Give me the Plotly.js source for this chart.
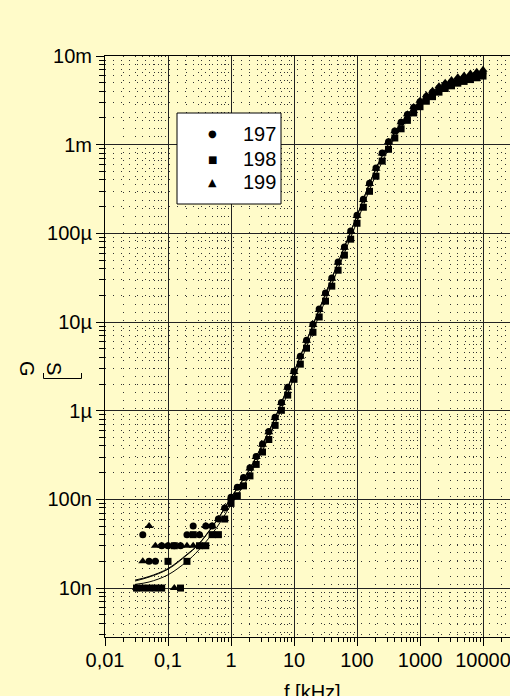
<!DOCTYPE html>
<html>
<head>
<meta charset="utf-8">
<script src="https://cdn.plot.ly/plotly-3.0.1.min.js"></script>
<style>
html,body{margin:0;padding:0;overflow:hidden;background:#fffbc9;}
#chart{width:540px;height:696px;}
</style>
</head>
<body>
<div id="chart"></div>
<script>
// frequency points [kHz]
const freq = [0.0316, 0.0398, 0.0501, 0.0631, 0.0794, 0.1, 0.126, 0.158, 0.2, 0.251, 0.316, 0.398, 0.501, 0.631, 0.794,
  1, 1.26, 1.58, 2, 2.51, 3.16, 3.98, 5.01, 6.31, 7.94,
  10, 12.6, 15.8, 20, 25.1, 31.6, 39.8, 50.1, 63.1, 79.4,
  100, 126, 158, 200, 251, 316, 398, 501, 631, 794,
  1000, 1260, 1580, 2000, 2510, 3160, 3980, 5010, 6310, 7940, 10000];

// conductance G [S]
const g197 = [1e-8, 4e-8, 2e-8, 2e-8, 3e-8, 3e-8, 3e-8, 3e-8, 4e-8, 5e-8, 4e-8, 5e-8, 5e-8, 6e-8, 8e-8,
  1.06e-7, 1.37e-7, 1.76e-7, 2.27e-7, 3.05e-7, 4.22e-7, 5.83e-7, 8.42e-7, 1.24e-6, 1.84e-6,
  2.79e-6, 4.12e-6, 6.24e-6, 9.44e-6, 1.40e-5, 2.12e-5, 3.13e-5, 4.74e-5, 7.01e-5, 1.06e-4,
  1.60e-4, 2.43e-4, 3.68e-4, 5.44e-4, 8.05e-4, 1.08e-3, 1.43e-3, 1.79e-3, 2.19e-3, 2.62e-3,
  3.05e-3, 3.48e-3, 3.89e-3, 4.35e-3, 4.75e-3, 5.08e-3, 5.42e-3, 5.67e-3, 5.93e-3, 6.20e-3, 6.48e-3];

const g198 = [1e-8, 1e-8, 1e-8, 1e-8, 1e-8, 2e-8, 3e-8, 1e-8, 2e-8, 4e-8, 3e-8, 3e-8, 4e-8, 4e-8, 6e-8,
  9.0e-8, 1.10e-7, 1.42e-7, 1.84e-7, 2.48e-7, 3.42e-7, 4.73e-7, 6.83e-7, 1.01e-6, 1.50e-6,
  2.26e-6, 3.35e-6, 5.07e-6, 7.66e-6, 1.14e-5, 1.72e-5, 2.54e-5, 3.84e-5, 5.68e-5, 8.60e-5,
  1.30e-4, 1.97e-4, 2.98e-4, 4.41e-4, 6.53e-4, 8.87e-4, 1.19e-3, 1.51e-3, 1.88e-3, 2.28e-3,
  2.68e-3, 3.09e-3, 3.48e-3, 3.91e-3, 4.30e-3, 4.61e-3, 4.94e-3, 5.17e-3, 5.42e-3, 5.68e-3, 5.94e-3];

const g199 = [1e-8, 2e-8, 5e-8, 3e-8, 3e-8, 3e-8, 1e-8, 3e-8, 3e-8, 3e-8, 4e-8, 5e-8, 5e-8, 6e-8, 8e-8,
  1.04e-7, 1.34e-7, 1.73e-7, 2.23e-7, 3.00e-7, 4.14e-7, 5.72e-7, 8.26e-7, 1.22e-6, 1.81e-6,
  2.74e-6, 4.05e-6, 6.13e-6, 9.27e-6, 1.37e-5, 2.08e-5, 3.07e-5, 4.65e-5, 6.87e-5, 1.04e-4,
  1.57e-4, 2.38e-4, 3.61e-4, 5.34e-4, 7.93e-4, 1.07e-3, 1.42e-3, 1.79e-3, 2.21e-3, 2.66e-3,
  3.13e-3, 3.60e-3, 4.05e-3, 4.55e-3, 5.00e-3, 5.36e-3, 5.76e-3, 6.04e-3, 6.34e-3, 6.64e-3, 6.98e-3];

// fitted curves
const fitFreq = [0.03, 0.05, 0.1, 0.2, 0.3, 0.5, 0.7, 1, 1.5, 2, 3, 5, 7, 10, 20, 50, 100, 200, 500, 1000, 2000, 5000, 10000];
const fit197 = [1.23e-8, 1.35e-8, 1.66e-8, 2.40e-8, 3.09e-8, 4.90e-8, 6.92e-8, 1.05e-7, 1.62e-7, 2.24e-7, 3.89e-7, 8.32e-7, 1.48e-6, 2.75e-6, 9.33e-6, 4.68e-5, 1.58e-4, 5.37e-4, 1.74e-3, 3.02e-3, 4.27e-3, 5.62e-3, 6.46e-3];
const fit198 = [1.10e-8, 1.17e-8, 1.41e-8, 2.00e-8, 2.63e-8, 4.07e-8, 5.75e-8, 8.71e-8, 1.35e-7, 1.91e-7, 3.31e-7, 7.08e-7, 1.26e-6, 2.34e-6, 7.94e-6, 3.98e-5, 1.35e-4, 4.57e-4, 1.55e-3, 2.75e-3, 3.98e-3, 5.13e-3, 5.89e-3];
const fit199 = [1.20e-8, 1.33e-8, 1.63e-8, 2.36e-8, 3.05e-8, 4.85e-8, 6.85e-8, 1.04e-7, 1.60e-7, 2.21e-7, 3.85e-7, 8.22e-7, 1.46e-6, 2.72e-6, 9.25e-6, 4.64e-5, 1.57e-4, 5.40e-4, 1.78e-3, 3.10e-3, 4.45e-3, 5.90e-3, 6.80e-3];

const seriesNames = ["197", "198", "199"];
const legendGlyphs = ["●", "■", "▲"];
const xTickVals = [0.01, 0.1, 1, 10, 100, 1000, 10000];
const xTickText = ["0,01", "0,1", "1", "10", "100", "1000", "10000"];
const yTickVals = [1e-8, 1e-7, 1e-6, 1e-5, 1e-4, 1e-3, 1e-2];
const yTickText = ["10n", "100n", "1µ", "10µ", "100µ", "1m", "10m"];

const minorX = [], minorY = [];
for (let e = -2; e <= 4; e++) for (let m = 2; m <= 9; m++) minorX.push(m * Math.pow(10, e));
for (let e = -9; e <= -3; e++) for (let m = 2; m <= 9; m++) minorY.push(m * Math.pow(10, e));

const FONT = "Liberation Sans, Arial, sans-serif";
const BG = "#fffbc9";

// plot-area geometry (px) used to place decorations
const PL = 105, PW = 415, PT = 56, PH = 581;
const px = v => (v - PL) / PW;
const py = v => (PT + PH - v) / PH;

const fitLine = {color: "black", width: 1, shape: "spline"};
const symbols = ["circle", "square", "triangle-up"];
const traces = [
  {x: fitFreq, y: fit197, mode: "lines", line: fitLine, showlegend: false, hoverinfo: "skip"},
  {x: fitFreq, y: fit198, mode: "lines", line: fitLine, showlegend: false, hoverinfo: "skip"},
  {x: fitFreq, y: fit199, mode: "lines", line: fitLine, showlegend: false, hoverinfo: "skip"},
  {x: freq, y: g197, name: seriesNames[0], mode: "markers", showlegend: false, marker: {symbol: symbols[0], size: 7, color: "black"}},
  {x: freq, y: g198, name: seriesNames[1], mode: "markers", showlegend: false, marker: {symbol: symbols[1], size: 7, color: "black"}},
  {x: freq, y: g199, name: seriesNames[2], mode: "markers", showlegend: false, marker: {symbol: symbols[2], size: 8, color: "black"}}
];

const axisCommon = {
  type: "log",
  showline: true, linecolor: "black", linewidth: 1, mirror: true,
  ticks: "outside", ticklen: 8, tickwidth: 1, tickcolor: "black",
  showgrid: true, gridcolor: "#222", gridwidth: 1,
  zeroline: false,
  tickfont: {family: FONT, size: 20, color: "black"}
};

const minorGrid = {showgrid: true, gridcolor: "#333", griddash: "1px,7px", gridwidth: 1};

// legend drawn as box + text
const legendRows = [134, 159, 182];
const annotations = [
  {text: "f [kHz]", xref: "paper", yref: "paper", x: 0.499, y: 0, xanchor: "center", yanchor: "top",
   yshift: -42, showarrow: false, font: {family: FONT, size: 20, color: "black"}},
  {text: "G", xref: "paper", yref: "paper", x: px(27), y: py(369), xanchor: "center", yanchor: "middle",
   textangle: 90, showarrow: false, font: {family: FONT, size: 20, color: "black"}},
  {text: "S", xref: "paper", yref: "paper", x: px(54), y: py(368), xanchor: "center", yanchor: "middle",
   textangle: 90, showarrow: false, font: {family: FONT, size: 20, color: "black"}}
];
seriesNames.forEach((n, i) => {
  annotations.push({text: legendGlyphs[i], xref: "paper", yref: "paper", x: px(212), y: py(legendRows[i]),
    xanchor: "center", yanchor: "middle", showarrow: false,
    font: {family: "DejaVu Sans", size: i === 2 ? 11 : 10, color: "black"}});
  annotations.push({text: n, xref: "paper", yref: "paper", x: px(241), y: py(legendRows[i]),
    xanchor: "left", yanchor: "middle", showarrow: false,
    font: {family: FONT, size: 20, color: "black"}});
});

const shapes = [
  {type: "rect", xref: "paper", yref: "paper", x0: px(177), x1: px(281), y0: py(204), y1: py(113),
   fillcolor: "white", line: {color: "black", width: 1}, layer: "above"},
  {type: "path", xref: "paper", yref: "paper",
   path: `M ${px(43.5)} ${py(373)} L ${px(43.5)} ${py(378.5)} L ${px(81.5)} ${py(378.5)} L ${px(81.5)} ${py(373)}`,
   line: {color: "black", width: 1}}
];

const layout = {
  width: 540, height: 696,
  margin: {l: PL, r: 540 - PL - PW, t: PT, b: 696 - PT - PH},
  paper_bgcolor: BG, plot_bgcolor: BG,
  font: {family: FONT, size: 20, color: "black"},
  xaxis: Object.assign({}, axisCommon, {
    range: [-2, 4.587],
    tickmode: "array", tickvals: xTickVals, ticktext: xTickText,
    ticklabelstandoff: -3,
    minor: Object.assign({tickmode: "array", tickvals: minorX, ticks: "outside", ticklen: 4, tickcolor: "black"}, minorGrid)
  }),
  yaxis: Object.assign({}, axisCommon, {
    range: [-8.552, -2],
    tickmode: "array", tickvals: yTickVals, ticktext: yTickText,
    minor: Object.assign({tickmode: "array", tickvals: minorY, ticks: "outside", ticklen: 5, tickcolor: "black"}, minorGrid)
  }),
  showlegend: false,
  annotations: annotations,
  shapes: shapes
};

// legend box must sit under its text: draw texts above shapes (annotations are above shapes by default)
Plotly.newPlot("chart", traces, layout, {displayModeBar: false, staticPlot: true});
</script>
</body>
</html>
